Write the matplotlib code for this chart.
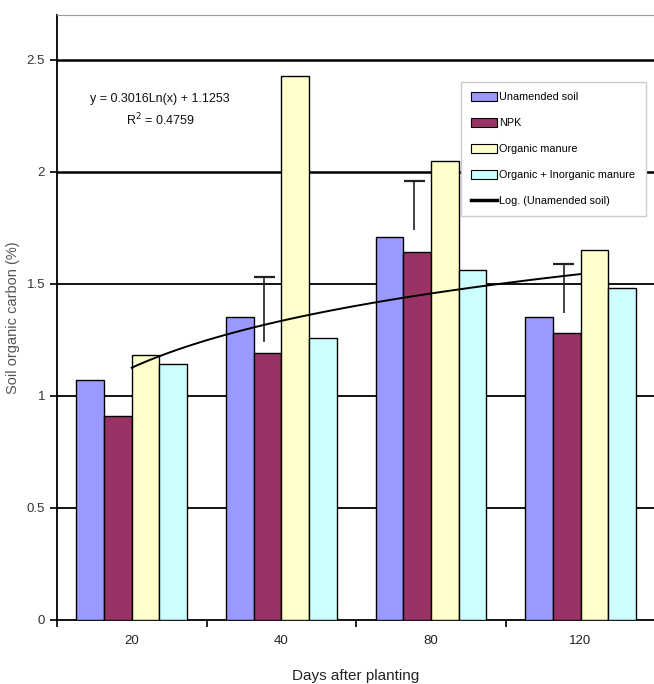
import numpy as np
import matplotlib
matplotlib.use("Agg")
import matplotlib.pyplot as plt
from matplotlib.patches import Patch
from matplotlib.lines import Line2D

plt.rcParams['font.family'] = ['Liberation Sans Narrow', 'Liberation Sans', 'DejaVu Sans']

# ---- data ----
days = ["20", "40", "80", "120"]
unamended = [1.07, 1.35, 1.71, 1.35]
npk = [0.91, 1.19, 1.64, 1.28]
organic = [1.18, 2.43, 2.05, 1.65]
org_inorg = [1.14, 1.26, 1.56, 1.48]

# error bars (drawn over the NPK bar), None where absent
err_low = [None, 1.24, 1.74, 1.37]
err_high = [None, 1.53, 1.96, 1.59]

# log trendline of unamended soil
trend_a = 0.3016
trend_b = 1.1253
trend_r2 = 0.4759

series = [
    ("Unamended soil", unamended, "#9999FF"),
    ("NPK", npk, "#993366"),
    ("Organic manure", organic, "#FFFFCC"),
    ("Organic + Inorganic manure", org_inorg, "#CCFFFF"),
]

fig = plt.figure(figsize=(6.54, 6.84), dpi=100)
ax = fig.add_axes([0.087, 0.094, 0.915, 0.884])

x = np.arange(len(days))
w = 0.185
for i, (name, vals, col) in enumerate(series):
    ax.bar(x + (i - 1.5) * w, vals, w, color=col, edgecolor="black", linewidth=1.0, zorder=3)

# error bars
for j in range(len(days)):
    if err_low[j] is None:
        continue
    xe = x[j] - 0.5 * w - 0.02
    ax.vlines(xe, err_low[j], err_high[j], color="#222222", linewidth=1.2, zorder=4)
    ax.hlines(err_high[j], xe - 0.07, xe + 0.07, color="#222222", linewidth=1.6, zorder=4)

# trendline
xt = np.linspace(1, len(days), 60)
ax.plot(xt - 1, trend_a * np.log(xt) + trend_b, color="black", linewidth=1.4, zorder=5)

ax.text(0.19, 2.275, "y = %.4fLn(x) + %.4f\nR$^2$ = %.4f" % (trend_a, trend_b, trend_r2),
        ha="center", va="center", fontsize=9, multialignment="center",
        linespacing=1.5, color="#111111")

# axes styling
ax.set_xlim(-0.5, 3.5)
ax.set_ylim(0, 2.7)
ax.set_yticks([0, 0.5, 1, 1.5, 2, 2.5])
ax.set_yticklabels(["0", "0.5", "1", "1.5", "2", "2.5"])
for yv in [0.5, 1, 1.5, 2, 2.5]:
    ax.axhline(yv, color="black", linewidth=1.8 if yv >= 2 else 1.3, zorder=1)

ax.set_xticks(x)
ax.set_xticklabels(days)
ax.set_xticks(np.arange(-0.5, 3.6, 1), minor=True)
ax.tick_params(axis="x", which="major", length=0, pad=11, labelsize=9.5, labelcolor="#222222")
ax.tick_params(axis="x", which="minor", length=5, direction="out", width=1.2)
ax.tick_params(axis="y", length=5, direction="out", width=1.2, labelsize=9.5, labelcolor="#333333")

for s in ["left", "bottom"]:
    ax.spines[s].set_linewidth(1.3)
ax.spines["top"].set_color("#999999")
ax.spines["right"].set_visible(False)

ax.set_ylabel("Soil organic carbon (%)", fontsize=10.5, color="#555555")
ax.yaxis.set_label_coords(-0.062, 0.5)
ax.set_xlabel("Days after planting", fontsize=11, color="#222222", labelpad=16)

handles = [Patch(facecolor=c, edgecolor="black", linewidth=0.8) for _, _, c in series]
handles.append(Line2D([0], [0], color="black", linewidth=2.5))
labels = [n for n, _, _ in series] + ["Log. (Unamended soil)"]
leg = ax.legend(handles, labels, loc="upper left", bbox_to_anchor=(0.675, 0.89),
                fontsize=7.8, frameon=True, fancybox=False, framealpha=1,
                handlelength=2.4, handleheight=0.9, handletextpad=0.2,
                labelspacing=1.45, borderpad=0.95, borderaxespad=0)
leg.get_frame().set_edgecolor("#cccccc")
leg.get_frame().set_linewidth(1.0)
leg.set_zorder(6)

fig.savefig("out.png", dpi=100)
